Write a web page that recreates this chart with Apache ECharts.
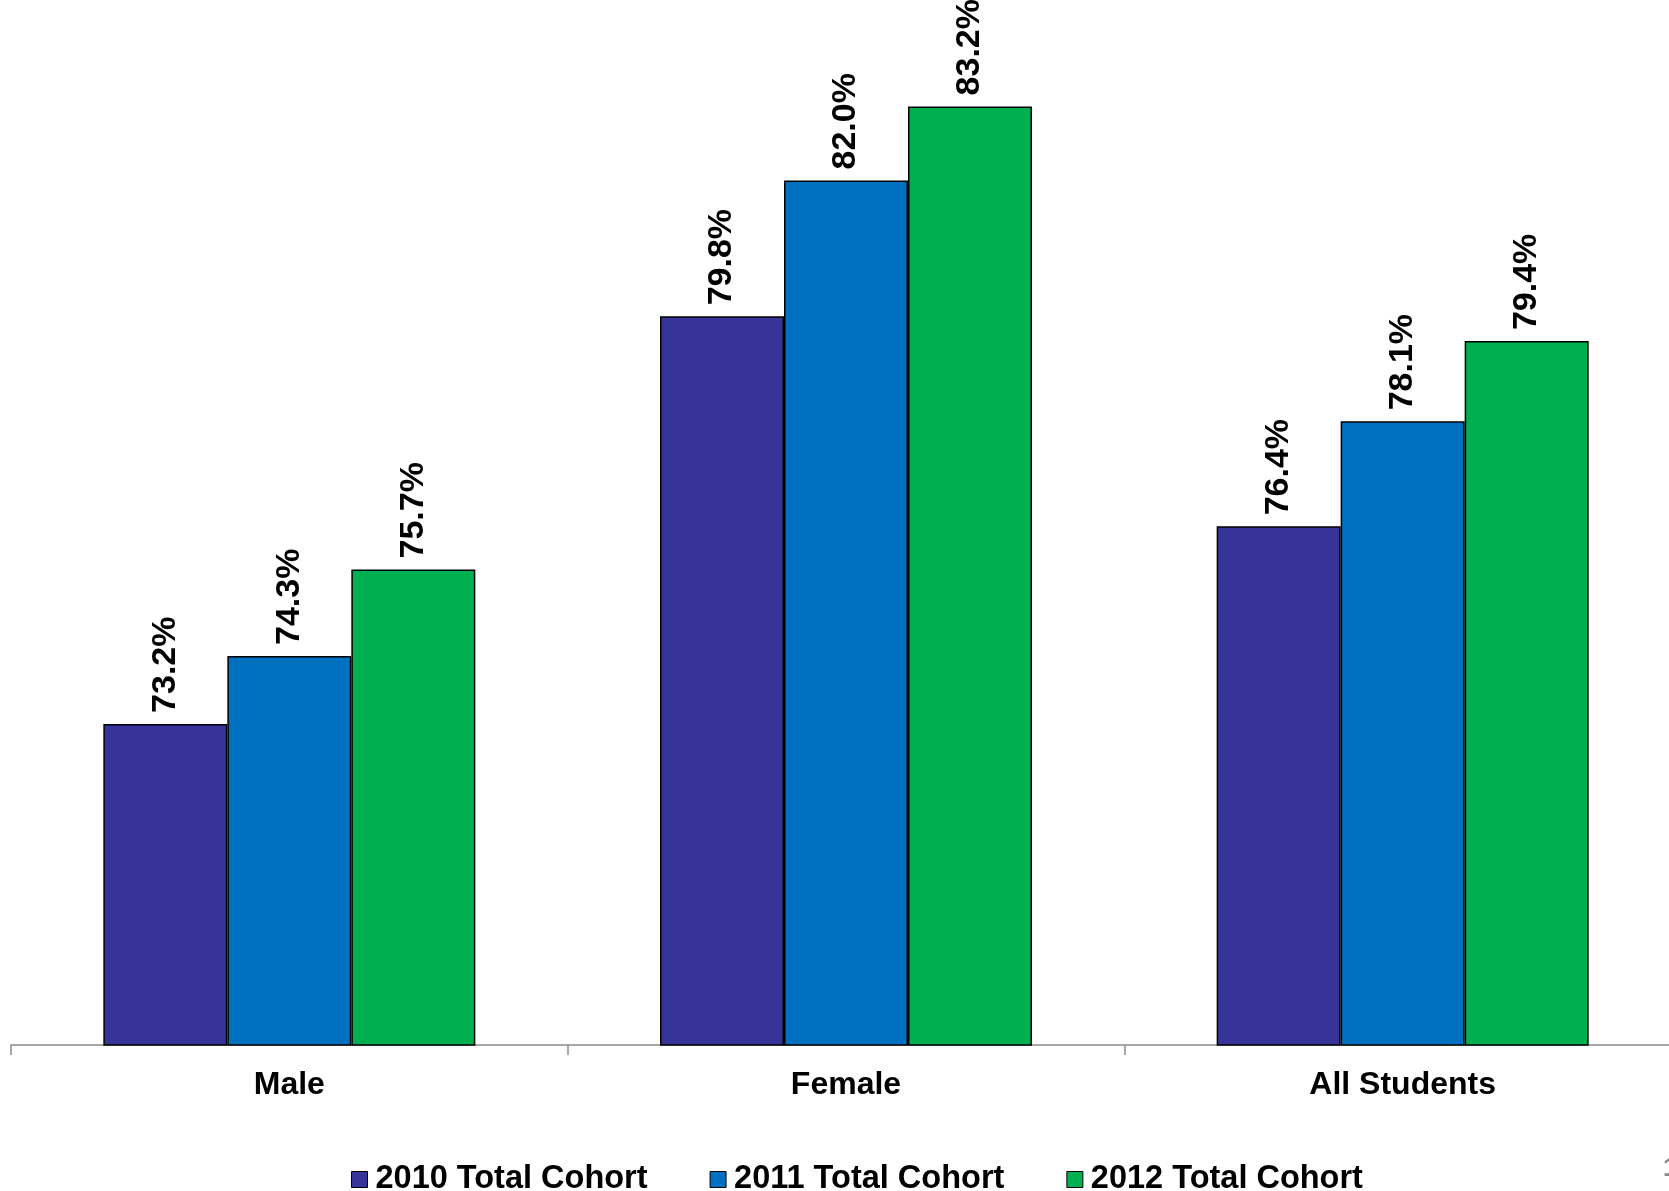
<!DOCTYPE html>
<html>
<head>
<meta charset="utf-8">
<script src="https://cdn.jsdelivr.net/npm/echarts@6/dist/echarts.min.js"></script>
<style>
html,body{margin:0;padding:0;background:#fff;}
#chart{width:1669px;height:1191px;}
</style>
</head>
<body>
<div id="chart"></div>
<script>
const categories = ['Male', 'Female', 'All Students'];
const seriesNames = ['2010 Total Cohort', '2011 Total Cohort', '2012 Total Cohort'];
const values2010 = [73.2, 79.8, 76.4];
const values2011 = [74.3, 82.0, 78.1];
const values2012 = [75.7, 83.2, 79.4];
const colors = ['#363399', '#0070C0', '#00B050'];

const font = '"Liberation Sans", Arial, sans-serif';
const allValues = [values2010, values2011, values2012];

const chart = echarts.init(document.getElementById('chart'));
chart.setOption({
  backgroundColor: '#ffffff',
  animation: false,
  grid: { left: 11, width: 1670, top: 57, bottom: 146, containLabel: false, outerBoundsMode: 'none' },
  legend: {
    data: seriesNames,
    left: 346,
    top: 1158,
    itemWidth: 16,
    itemHeight: 16,
    itemGap: 62,
    icon: 'rect',
    itemStyle: { borderColor: '#000', borderWidth: 1 },
    textStyle: { fontFamily: font, fontSize: 32.5, fontWeight: 'bold', color: '#000', padding: [0, 0, 0, 3] }
  },
  xAxis: {
    type: 'category',
    data: categories,
    axisLine: { lineStyle: { color: '#8c8c8c', width: 1.5 } },
    axisTick: { show: true, length: 10, lineStyle: { color: '#8c8c8c', width: 1.5 } },
    axisLabel: { fontFamily: font, fontSize: 32, fontWeight: 'bold', color: '#000', margin: 24 }
  },
  yAxis: {
    type: 'value',
    min: 68,
    max: 84,
    show: false,
    splitLine: { show: false }
  },
  graphic: [{
    type: 'text',
    left: 1663,
    top: 1156,
    style: { text: '1', fill: '#888', font: 'bold 26px ' + font }
  }],
  series: seriesNames.map((name, i) => ({
    name: name,
    type: 'bar',
    data: allValues[i],
    barWidth: 124,
    barGap: '0%',
    itemStyle: { color: colors[i], borderColor: '#000', borderWidth: 1.5 },
    label: {
      show: true,
      position: 'top',
      rotate: 90,
      align: 'left',
      verticalAlign: 'middle',
      distance: 11,
      formatter: p => p.value.toFixed(1) + '%',
      fontFamily: font,
      fontSize: 34,
      fontWeight: 'bold',
      color: '#000'
    }
  }))
});
</script>
</body>
</html>
